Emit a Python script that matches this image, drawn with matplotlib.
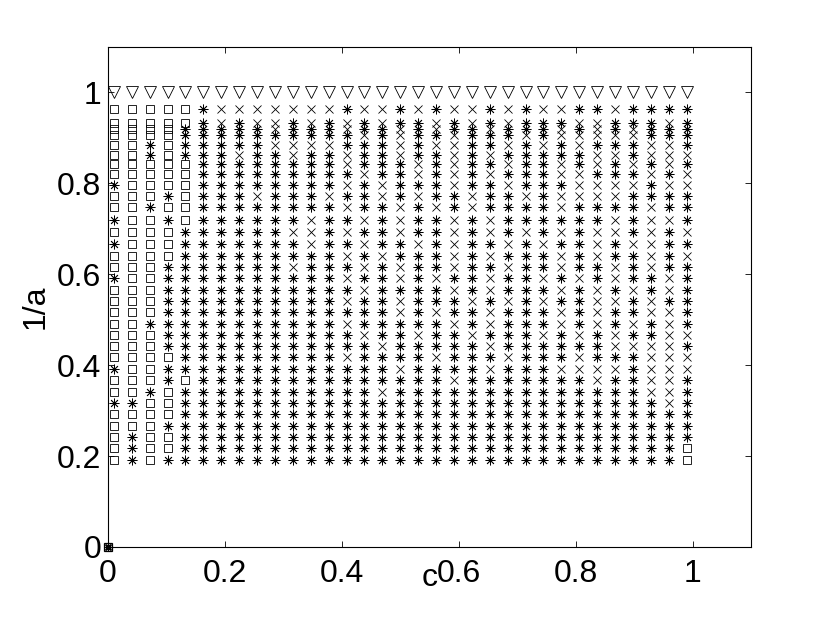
import matplotlib
matplotlib.use("Agg")
import matplotlib.pyplot as plt

plt.rcParams['font.family'] = ['Liberation Sans', 'DejaVu Sans']

# sweep values
c_values = [0.0100, 0.0406, 0.0713, 0.1019, 0.1325, 0.1631, 0.1938, 0.2244, 0.2550,
            0.2856, 0.3163, 0.3469, 0.3775, 0.4081, 0.4388, 0.4694, 0.5000, 0.5306,
            0.5613, 0.5919, 0.6225, 0.6531, 0.6838, 0.7144, 0.7450, 0.7756, 0.8063,
            0.8369, 0.8675, 0.8981, 0.9288, 0.9594, 0.9900]

inv_a = [0.963, 0.933, 0.920, 0.907, 0.884, 0.862, 0.842, 0.820, 0.797, 0.773, 0.747,
         0.720, 0.693, 0.666, 0.640, 0.615, 0.591, 0.566, 0.541, 0.516, 0.491, 0.466,
         0.442, 0.417, 0.392, 0.367, 0.342, 0.317, 0.292, 0.267, 0.242, 0.217, 0.192]

top_inv_a = 1.0   # row of triangles

# one string per inv_a row, one char per c value
# s = square, * = asterisk, x = cross
outcome_rows = [
    "sssss*xxxxxx" + "x*xx*x*xx*x*" + "xx**x****",
    "sssss*x*xx*x" + "*x*x**x*x*x*" + "**xx***x*",
    "ssss*****x**" + "*x**x*x**x**" + "*x*x*x***",
    "ssss********" + "**x*x**x***x" + "*xxxxx***",
    "ss*s*****xxx" + "x***x*xx**x*" + "x*x***xx*",
    "ss*s***x**x*" + "*x**x**x*x**" + "***xx*xxx",
    "sssss*******" + "*x***x*x**x*" + "*x*x*x*x*",
    "sssss*******" + "**x**x*x*x**" + "*xx***x*x",
    "*ssss*******" + "*x*x***x**x*" + "**xxxx*xx",
    "sss*s***x***" + "x**x*x**x**x" + "*xxxx****",
    "ss*ss*******" + "*x**x*x*x***" + "*x****x**",
    "*ss*s******x" + "**x*x**x*x**" + "****x*xx*",
    "ssss******xx" + "*x**x**x*x*x" + "*x*xx*x*x",
    "*sss*******x" + "**x**x*x**x*" + "x**x*xx**",
    "ssss********" + "*x*x***x*x**" + "*x*x**x*x",
    "sss*******x*" + "**x*x**x**x*" + "*x**x*x**",
    "*ss*********" + "*x**x*x**x**" + "x*x*x**x*",
    "sss*********" + "**x****x*x**" + "*x*x*x*x*",
    "sss*********" + "*x**x***x*x*" + "x**xx*x**",
    "sss*********" + "****x*x**x**" + "*x*x**xx*",
    "ss**********" + "*x*****x*x**" + "*x*x*x*x*",
    "sss*********" + "**x**x**x***" + "x*x*x**xx",
    "sss*********" + "***x*****x**" + "****xxxx*",
    "ssss********" + "*x****x***x*" + "**x***xxx",
    "*ss*********" + "****x****x**" + "*xxxx*xxx",
    "sss*s*******" + "*******x****" + "***x**xx*",
    "ss*s********" + "***x********" + "******xx*",
    "**ss********" + "************" + "*******x*",
    "ssss********" + "************" + "*********",
    "sss*********" + "************" + "*********",
    "s*ss********" + "************" + "*********",
    "s*ss********" + "************" + "********s",
    "s*s*********" + "************" + "********s",
]

x_ticks = [0, 0.2, 0.4, 0.6, 0.8, 1]
y_ticks = [0, 0.2, 0.4, 0.6, 0.8, 1]

points = {'s': ([], []), '*': ([], []), 'x': ([], [])}
for y, row in zip(inv_a, outcome_rows):
    for c, code in zip(c_values, row):
        points[code][0].append(c)
        points[code][1].append(y)

fig = plt.figure(figsize=(8.3, 6.24), dpi=100)
ax = fig.add_axes([108 / 830, 1 - 547 / 624, 643 / 830, 500 / 624])

lw = 0.6
ax.plot(c_values, [top_inv_a] * len(c_values), linestyle='none', marker='v',
        markersize=8, markerfacecolor='none', markeredgecolor='k', markeredgewidth=lw)
ax.plot(points['s'][0], points['s'][1], linestyle='none', marker='s', markersize=5.6,
        markerfacecolor='none', markeredgecolor='k', markeredgewidth=lw)
ax.plot(points['*'][0], points['*'][1], linestyle='none', marker=(8, 2, 0), markersize=7,
        markeredgecolor='k', markeredgewidth=lw)
ax.plot(points['x'][0], points['x'][1], linestyle='none', marker='x', markersize=5.3,
        markeredgecolor='k', markeredgewidth=lw)

# degenerate point at the origin
ax.plot([0], [0], linestyle='none', marker='s', markersize=5.6, markerfacecolor='none',
        markeredgecolor='k', markeredgewidth=0.9, clip_on=False)
ax.plot([0], [0], linestyle='none', marker=(8, 2, 0), markersize=5.5,
        markeredgecolor='k', markeredgewidth=0.9, clip_on=False)
ax.plot([0], [0], linestyle='none', marker='x', markersize=4.5,
        markeredgecolor='k', markeredgewidth=0.9, clip_on=False)

ax.set_xlim(0, 1.1)
ax.set_ylim(0, 1.1)
ax.set_xticks(x_ticks)
ax.set_yticks(y_ticks)
ax.set_xticklabels(['0', '0.2', '0.4', '0.6', '0.8', '1'])
ax.set_yticklabels(['0', '0.2', '0.4', '0.6', '0.8', '1'])
ax.tick_params(direction='in', length=4.5, width=0.6, labelsize=23,
               top=True, right=True)
ax.tick_params(axis='x', pad=9)
ax.tick_params(axis='y', pad=5)
for sp in ax.spines.values():
    sp.set_linewidth(0.8)

ax.set_xlabel('c', fontsize=23)
ax.set_ylabel('1/a', fontsize=23)
ax.xaxis.set_label_coords(0.5, -0.033)
ax.yaxis.set_label_coords(-0.09, 0.48)

fig.savefig('out.png', dpi=100)
